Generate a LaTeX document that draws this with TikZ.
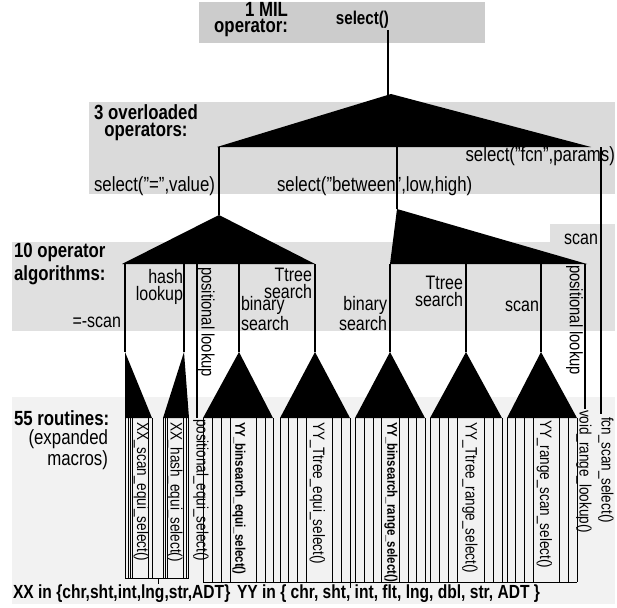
\documentclass[tikz,border=0pt]{standalone}
\usepackage{fontspec}
\setmainfont{Liberation Sans}[FakeStretch=0.82]
\definecolor{bandA}{RGB}{204,204,204}
\definecolor{bandB}{RGB}{218,218,218}
\definecolor{bandC}{RGB}{224,224,224}
\definecolor{bandD}{RGB}{242,242,242}
\begin{document}
\begin{tikzpicture}[x=1pt,y=-1pt,
  every node/.style={inner sep=0pt,outer sep=0pt},
  grp/.style={font=\fontsize{20.5}{16.5}\selectfont\bfseries},
  ovl/.style={font=\fontsize{20.5}{16.5}\selectfont},
  alg/.style={font=\fontsize{19.5}{17}\selectfont},
  algrot/.style={font=\fontsize{18}{14}\selectfont,rotate=-90},
  rtn/.style={font=\fontsize{16.5}{16}\selectfont,rotate=-90,anchor=west},
  rtnb/.style={font=\fontsize{14}{14}\selectfont\bfseries,rotate=-90,anchor=west},
  conn/.style={line width=1.1pt},
  rline/.style={line width=0.6pt},
  tri/.style={fill=black}]
\useasboundingbox (0,0) rectangle (617,607);

% background bands
\fill[bandA] (199,2) rectangle (485,43);
\fill[bandB] (89,102) rectangle (615,194);
\fill[bandC] (12,242) rectangle (615,331);
\fill[bandC] (550,224) rectangle (615,331);
\fill[bandD] (12,397) rectangle (615,604);

% band titles (multi-line nodes sit on the baseline of their last line)
\node[grp,align=right,anchor=base east] (t-mil) at (288,33) {1 MIL\\operator:};
\node[grp,align=center,anchor=base] (t-ovl) at (146,136) {3 overloaded\\operators:};
\node[grp,align=left,anchor=base west] (t-alg) at (14,280) {10 operator\\[2pt]algorithms:};
\node[grp,anchor=base west] (t-rtn) at (14,425) {55 routines:};
\node[ovl,align=right,anchor=base east] (t-exp) at (108,465) {(expanded\\macros)};

% the MIL operator
\node[font=\fontsize{18.5}{18}\selectfont\bfseries,anchor=base east] (sel) at (389,25) {select()};
\coordinate (selB) at (388,30);

% level 1: overloading
\coordinate (t1) at (391,94);
\coordinate (t1l) at (217,147);
\coordinate (t1r) at (591,147);
\fill[tri] (t1) -- (t1l) -- (t1r) -- cycle;
\draw[conn] (selB) -- (388,95);

\coordinate (o1) at (219,147);
\coordinate (o2) at (397,147);
\coordinate (o3) at (601,147);

\node[ovl,anchor=base east] (s-eq) at (215,191) {select("=",value)};
\node[ovl,anchor=base west] (s-bt) at (277,191) {select("between",low,high)};
\node[ovl,anchor=base east] (s-fc) at (615,161) {select("fcn",params)};

% level 2: algorithms
\coordinate (t2) at (219,215);
\coordinate (t2l) at (122,264);
\coordinate (t2r) at (315,264);
\coordinate (t3) at (397,209);
\coordinate (t3l) at (390,264);
\coordinate (t3r) at (587,264);
\fill[tri] (t2) -- (t2l) -- (t2r) -- cycle;
\fill[tri] (t3) -- (t3l) -- (t3r) -- cycle;
\draw[conn] (o1) -- (t2);
\draw[conn] (o2) -- (t3);
\coordinate (fcnEnd) at (601,414);
\draw[conn] (o3) -- (fcnEnd);

\coordinate (a1) at (125,264);
\coordinate (a2) at (184,264);
\coordinate (a3) at (197,264);
\coordinate (a4) at (239,264);
\coordinate (a5) at (315,264);
\coordinate (b1) at (390,264);
\coordinate (b2) at (466,264);
\coordinate (b3) at (541,264);
\coordinate (b4) at (585,264);

\node[alg,anchor=base east] (l-scan) at (121,327) {=-scan};
\node[alg,align=right,anchor=base east] (l-hash) at (183,300) {hash\\lookup};
\node[algrot,anchor=south west] (l-pos1) at (198,267) {positional lookup};
\node[alg,align=left,anchor=base west] (l-bin1) at (241,330) {binary\\search};
\node[alg,align=right,anchor=base east] (l-tt1) at (312,298) {Ttree\\search};
\node[alg,align=right,anchor=base east] (l-bin2) at (387,330) {binary\\search};
\node[alg,align=right,anchor=base east] (l-tt2) at (463,306) {Ttree\\search};
\node[alg,anchor=base east] (l-scan2) at (539,311) {scan};
\node[algrot,anchor=north west] (l-pos2) at (583,265) {positional lookup};
\node[alg,anchor=base east] (l-scan3) at (598,244) {scan};

% level 3: routine families
\coordinate (ta) at (125,352);
\coordinate (tb) at (184,352);
\coordinate (tc) at (239,352);
\coordinate (td) at (315,352);
\coordinate (te) at (390,352);
\coordinate (tf) at (466,352);
\coordinate (tg) at (541,352);
\coordinate (posEnd) at (197,418);
\coordinate (voidEnd) at (585,409);
\draw[conn] (a1) -- (ta);
\draw[conn] (a2) -- (tb);
\draw[conn] (a3) -- (posEnd);
\draw[conn] (a4) -- (tc);
\draw[conn] (a5) -- (td);
\draw[conn] (b1) -- (te);
\draw[conn] (b2) -- (tf);
\draw[conn] (b3) -- (tg);
\draw[conn] (b4) -- (voidEnd);

\fill[tri] (ta) -- (125,418) -- (152,418) -- cycle;
\fill[tri] (tb) -- (163,418) -- (189,418) -- cycle;
\fill[tri] (tc) -- (203,418) -- (273,418) -- cycle;
\fill[tri] (td) -- (280,418) -- (350,418) -- cycle;
\fill[tri] (te) -- (355,418) -- (425,418) -- cycle;
\fill[tri] (tf) -- (430,418) -- (502,418) -- cycle;
\fill[tri] (tg) -- (507,418) -- (577,418) -- cycle;

% expanded routines, one line per type
\foreach \x in {125.5,128,130,132.5,148.5,152,163.5,165.5,167.5,183.5,186,188.5}
  \draw[rline] (\x,418) -- (\x,578);
\foreach \x in {203,212,221,230,256,265,273,
                280,288.75,297.5,306.25,332.5,341.25,350,
                355,364,373,381.5,399,408,416.5,425,
                430.5,439,448,457,484,493,502,
                507,515.75,524.5,533.25,559.5,568.25,577}
  \draw[rline] (\x,418) -- (\x,582);

\node[rtn] (r-xs) at (141.5,422) {XX\_scan\_equi\_select()};
\node[rtn] (r-xh) at (175,422) {XX\_hash\_equi\_select()};
\node[rtn] (r-pe) at (201,419) {positional\_equi\_select()};
\node[rtnb] (r-ybe) at (239,422) {YY\_binsearch\_equi\_select()};
\node[rtn] (r-yte) at (317.5,422) {YY\_Ttree\_equi\_select()};
\node[rtnb] (r-ybr) at (391,422) {YY\_binsearch\_range\_select()};
\node[rtn] (r-ytr) at (470,422) {YY\_Ttree\_range\_select()};
\node[rtn] (r-yrs) at (544.5,420) {YY\_range\_scan\_select()};
\node[rtn] (r-void) at (584,410) {void\_range\_lookup()};
\node[rtn] (r-fcn) at (606,417) {fcn\_scan\_select()};

% type sets
\coordinate (xxL) at (125,578);
\coordinate (xxR) at (189,578);
\coordinate (yyL) at (203,582);
\coordinate (yyR) at (577,582);
\draw[rline] (xxL) -- (xxR);
\draw[rline] (yyL) -- (yyR);
\draw[rline] (158,578) -- (158,584);
\draw[rline] (350,582) -- (350,588);
\node[font=\fontsize{19}{19}\selectfont\bfseries,anchor=base west] (xx) at (13,598) {XX in \{chr,sht,int,lng,str,ADT\}};
\node[font=\fontsize{19}{19}\selectfont\bfseries,anchor=base west] (yy) at (237,598) {YY in \{ chr, sht, int, flt, lng, dbl, str, ADT \}};
\end{tikzpicture}
\end{document}
